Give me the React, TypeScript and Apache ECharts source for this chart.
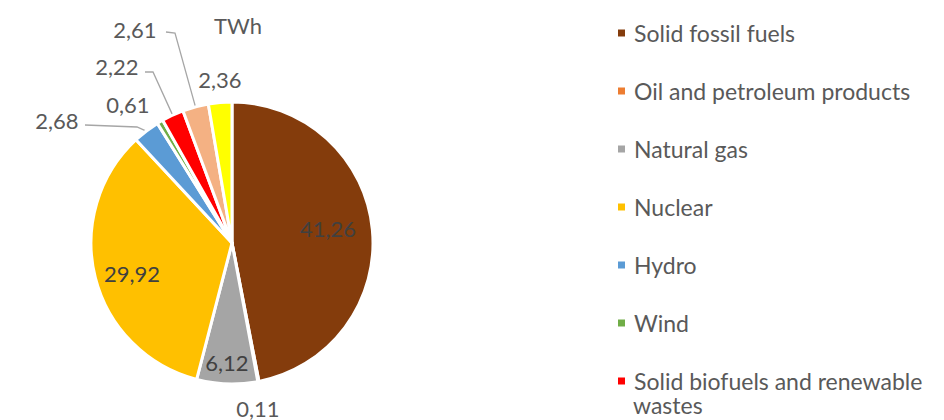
import React, { useEffect, useRef } from 'react';
import * as echarts from 'echarts';

// ---- data ----
const categories = [
  'Solid fossil fuels',
  'Oil and petroleum products',
  'Natural gas',
  'Nuclear',
  'Hydro',
  'Wind',
  'Solid biofuels and renewable wastes',
  'Other renewables',
  'Other',
];
const values = [41.26, 0.11, 6.12, 29.92, 2.68, 0.61, 2.22, 2.61, 2.36];
const legendNames = categories.slice(0, 7);
const unit = 'TWh';

// ---- styles ----
const colors = ['#843C0C', '#ED7D31', '#A5A5A5', '#FFC000', '#5B9BD5', '#70AD47', '#FF0000', '#F4B183', '#FFFF00'];
const insideLabel = [true, false, true, true, false, false, false, false, false];
// label placement (centre of each value label) and leader line elbow/end
const labelSpots: { x: number; y: number; line?: number[][] }[] = [
  { x: 328, y: 228 },
  { x: 258, y: 408 },
  { x: 227, y: 362 },
  { x: 132, y: 273 },
  { x: 57, y: 120, line: [[137, 127], [85, 125]] },
  { x: 128, y: 104 },
  { x: 117, y: 66, line: [[153, 72], [145, 72]] },
  { x: 135, y: 29, line: [[175, 33], [166, 32]] },
  { x: 220, y: 79 },
];

const FONT = 'Lato';
const LEGEND_FONT_SIZE = 23;
const fmt = (v: number) => v.toFixed(2).replace('.', ',');
const LONG = 'Solid biofuels and renewable wastes';
const LONG_FIRST = 'Solid biofuels and renewable';
const LONG_REST = 'wastes';

export default function App() {
  const ref = useRef<HTMLDivElement>(null);
  useEffect(() => {
    if (!ref.current) return;
    const chart = echarts.init(ref.current, null, { renderer: 'svg' });
    const data = categories.map((name, i) => ({
      name,
      value: values[i],
      itemStyle: { color: colors[i] },
      label: {
        show: true,
        position: insideLabel[i] ? 'inside' : 'outside',
        color: insideLabel[i] ? '#404040' : '#595959',
      },
      labelLine: { show: !!labelSpots[i].line },
    }));
    chart.setOption({
      animation: false,
      backgroundColor: '#ffffff',
      graphic: [
        {
          type: 'text',
          x: 238,
          y: 25,
          style: {
            text: unit,
            textAlign: 'center',
            textVerticalAlign: 'middle',
            fontSize: 22,
            fontFamily: FONT,
            fill: '#595959',
          },
        },
        {
          // wrapped second line of the last legend entry
          type: 'text',
          x: 633,
          y: 405,
          style: {
            text: LONG_REST,
            textAlign: 'left',
            textVerticalAlign: 'middle',
            fontSize: LEGEND_FONT_SIZE,
            fontFamily: FONT,
            fill: '#595959',
          },
        },
      ],
      legend: {
        orient: 'vertical',
        left: 616,
        top: 21,
        height: 520,
        padding: 0,
        itemWidth: 9,
        itemHeight: 9,
        itemGap: 34,
        icon: 'rect',
        data: legendNames,
        formatter: (n: string) => (n === LONG ? LONG_FIRST : n),
        textStyle: {
          fontFamily: FONT,
          fontSize: LEGEND_FONT_SIZE,
          color: '#595959',
          lineHeight: 24,
          padding: [0, 0, 0, 3],
        },
      },
      series: [
        {
          type: 'pie',
          center: [232, 243],
          radius: 141,
          startAngle: 90,
          clockwise: true,
          avoidLabelOverlap: false,
          itemStyle: { borderColor: '#ffffff', borderWidth: 3 },
          label: {
            fontFamily: FONT,
            fontSize: 22,
            formatter: (p: any) => fmt(p.value),
          },
          labelLine: {
            lineStyle: { color: '#A6A6A6', width: 1.3 },
            length: 10,
            length2: 10,
          },
          labelLayout: (p: any) => {
            const s = labelSpots[p.dataIndex];
            const out: any = { x: s.x, y: s.y, align: 'center', verticalAlign: 'middle', hideOverlap: false };
            if (s.line && p.labelLinePoints && p.labelLinePoints[0]) {
              out.labelLinePoints = [p.labelLinePoints[0], ...s.line];
            }
            return out;
          },
          data,
        },
      ],
    });
    return () => chart.dispose();
  }, []);
  return (
    <div
      ref={ref}
      style={{ position: 'absolute', left: 0, top: 0, width: 944, height: 420, background: '#fff' }}
    />
  );
}
